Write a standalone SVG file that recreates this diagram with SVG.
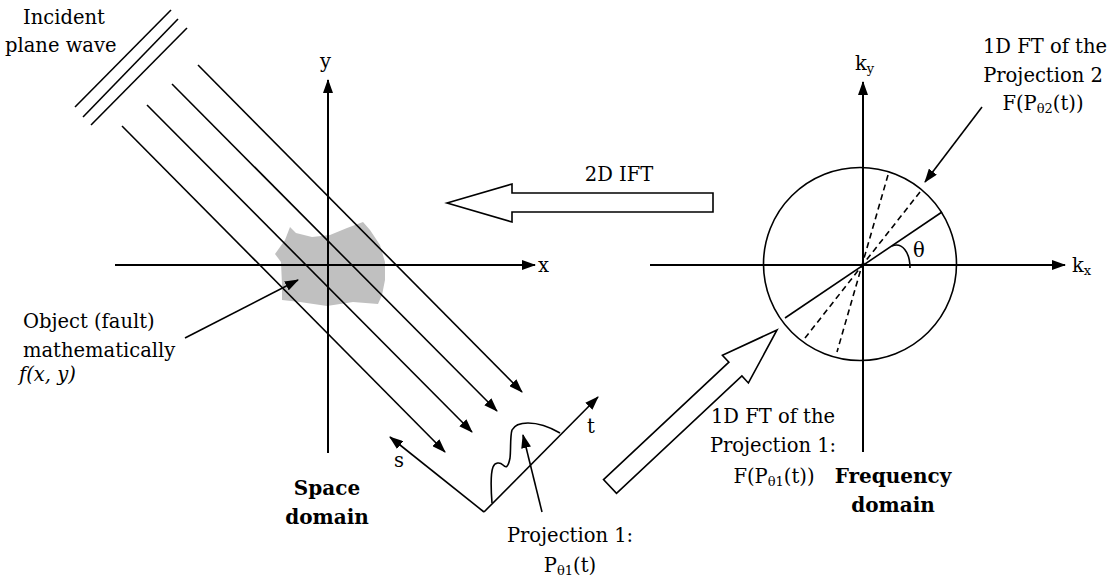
<svg xmlns="http://www.w3.org/2000/svg" width="1115" height="582" viewBox="0 0 1115 582">
<style>
.t{font-family:"DejaVu Serif","Liberation Serif",serif;font-size:19.5px;fill:#000}
.b{font-family:"DejaVu Serif","Liberation Serif",serif;font-size:20px;font-weight:bold;fill:#000}
.i{font-style:italic}
.sub{font-size:13px}
.ln{stroke:#000;stroke-width:1.6;fill:none}
.ax{stroke:#000;stroke-width:2;fill:none}
.dash{stroke:#000;stroke-width:1.6;fill:none;stroke-dasharray:6 4}
.blk{fill:#fff;stroke:#000;stroke-width:1.6}
</style>
<defs>
<marker id="ah" markerWidth="14" markerHeight="10" refX="13" refY="5" orient="auto" markerUnits="userSpaceOnUse">
<path d="M0,0 L14,5 L0,10 z" fill="#000"/>
</marker>
</defs>
<rect width="1115" height="582" fill="#fff"/>

<g id="plane-wave">
<line class="ln" x1="75" y1="107" x2="171" y2="10"/>
<line class="ln" x1="83" y1="117" x2="178" y2="19"/>
<line class="ln" x1="91" y1="125" x2="187" y2="28"/>
<text class="t" x="23" y="24">Incident</text>
<text class="t" x="5" y="52">plane wave</text>
</g>

<g id="object">
<path d="M282,300 L282,285 L281,262 L275,254 L280,247 L285,240 L290,227 L296,233 L312,237 L330,235 L347,228 L363,222 L370,230 L380,245 L385,262 L385,280 L382,295 L378,304 L353,302 L327,306 L300,302 Z" fill="#c0c0c0"/>
<text class="t" x="23" y="328">Object (fault)</text>
<text class="t" x="23" y="357">mathematically</text>
<text class="t i" x="19" y="381">f(x, y)</text>
</g>

<g id="space-axes">
<line class="ax" x1="115" y1="265" x2="535" y2="265" marker-end="url(#ah)"/>
<line class="ax" x1="328" y1="453" x2="328" y2="80" marker-end="url(#ah)"/>
<text class="t" x="538" y="272">x</text>
<text class="t" x="320" y="68">y</text>
<text class="b" x="327" y="495" text-anchor="middle">Space</text>
<text class="b" x="327" y="524" text-anchor="middle">domain</text>
</g>

<g id="projection">
<line class="ln" x1="484" y1="512" x2="390" y2="437" marker-end="url(#ah)"/>
<line class="ln" x1="484" y1="512" x2="598" y2="397" marker-end="url(#ah)"/>
<text class="t" x="394" y="467">s</text>
<text class="t" x="587" y="433">t</text>
<path class="ln" d="M492,503 C491,490 490,475 493,467 C495,462 500,462 503,465 C506,468 508,468 510,458 C511,450 510,436 512,430 C515,424 522,423 528,423 C537,423 548,426 560,433"/>
<text class="t" x="570" y="542" text-anchor="middle">Projection 1:</text>
<text class="t" x="570" y="572" text-anchor="middle">P<tspan class="sub" dy="3">θ1</tspan><tspan dy="-3">(t)</tspan></text>
</g>

<g id="ift-arrow">
<polygon class="blk" points="447,203 512,184 512,193 713,193 713,212 512,212 512,222"/>
<text class="t" x="619" y="181" text-anchor="middle">2D IFT</text>
</g>

<g id="ft-arrow">
<polygon class="blk" points="603.5,479.6 728.9,362.2 722.4,355.2 777,330 748.4,383 741.9,376 616.5,493.4"/>
<text class="t" x="773" y="423" text-anchor="middle">1D FT of the</text>
<text class="t" x="773" y="452" text-anchor="middle">Projection 1:</text>
<text class="t" x="774" y="483" text-anchor="middle">F(P<tspan class="sub" dy="3">θ1</tspan><tspan dy="-3">(t))</tspan></text>
</g>

<g id="freq-axes">
<circle class="ln" cx="860" cy="264" r="96.5"/>
<line class="ax" x1="650" y1="265" x2="1065" y2="265" marker-end="url(#ah)"/>
<line class="ax" x1="863" y1="452" x2="863" y2="82" marker-end="url(#ah)"/>
<line class="ln" x1="785" y1="318" x2="942" y2="212"/>
<line class="dash" x1="888" y1="175" x2="837" y2="352"/>
<line class="dash" x1="920" y1="192" x2="805" y2="338"/>
<path class="ln" d="M892,246 C902,242 910,252 910,268"/>
<text class="t" x="913" y="257">θ</text>
<text class="t" x="1072" y="272">k<tspan class="sub" dy="3">x</tspan></text>
<text class="t" x="855" y="70">k<tspan class="sub" dy="3">y</tspan></text>
<text class="b" x="893" y="483" text-anchor="middle">Frequency</text>
<text class="b" x="893" y="512" text-anchor="middle">domain</text>
</g>

<g id="proj2-label">
<text class="t" x="1045" y="53" text-anchor="middle">1D FT of the</text>
<text class="t" x="1043" y="82" text-anchor="middle">Projection 2</text>
<text class="t" x="1043" y="110" text-anchor="middle">F(P<tspan class="sub" dy="3">θ2</tspan><tspan dy="-3">(t))</tspan></text>
</g>

<g id="connectors">
<line class="ln" x1="122" y1="126" x2="445" y2="452" marker-end="url(#ah)"/>
<line class="ln" x1="147" y1="105" x2="472" y2="432" marker-end="url(#ah)"/>
<line class="ln" x1="172" y1="84" x2="497" y2="411" marker-end="url(#ah)"/>
<line class="ln" x1="198" y1="65" x2="522" y2="392" marker-end="url(#ah)"/>
<line class="ln" x1="185" y1="338" x2="298" y2="280" marker-end="url(#ah)"/>
<line class="ln" x1="542" y1="512" x2="523" y2="435" marker-end="url(#ah)"/>
<line class="ln" x1="982" y1="107" x2="925" y2="182" marker-end="url(#ah)"/>
</g>
</svg>
